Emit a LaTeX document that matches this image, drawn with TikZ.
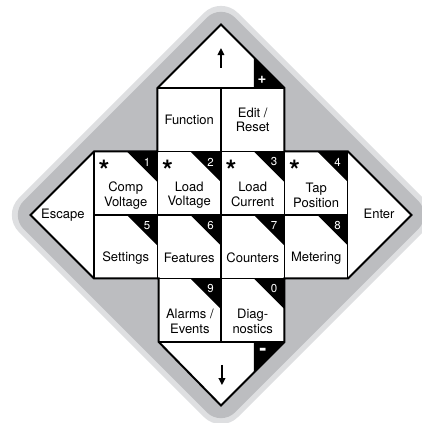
\documentclass[tikz,border=0pt]{standalone}
\usepackage{fontspec}
\setmainfont{TeX Gyre Heros}
\usetikzlibrary{arrows.meta}
\definecolor{PanelGray}{RGB}{188,189,192}
\definecolor{RimGray}{RGB}{222,223,225}
\tikzset{
  keylabel/.style={align=center, inner sep=0pt, font=\fontsize{13}{14.7}\selectfont},
  keynum/.style={white, inner sep=0pt, font=\fontsize{11.5}{12}\selectfont},
  keystar/.style={anchor=north, inner sep=0pt, font=\fontsize{28}{28}\bfseries\selectfont},
  gridline/.style={line width=1.1pt},
}
\begin{document}
\begin{tikzpicture}[x=63.5pt, y=63.5pt]
        \useasboundingbox (-3.480,-3.276) rectangle (3.165,3.386);
        % grey panel
        \fill[RimGray, rounded corners=24pt] (0,3.45)--(3.45,0)--(0,-3.45)--(-3.45,0)--cycle;
        \fill[PanelGray, rounded corners=20pt] (0,3.33)--(3.33,0)--(0,-3.33)--(-3.33,0)--cycle;
        % key face
        \fill[white] (0,3)--(1,2)--(1,1)--(2,1)--(3,0)--(2,-1)--(1,-1)--(1,-2)--(0,-3)--(-0.98,-2)--(-0.98,-1)--(-2,-1)--(-3,0)--(-2,1)--(-1,1)--(-1,2)--cycle;
        % black corners
        \fill (0.52,2)--(0.52,2.48)--(1,2)--cycle; \fill (0.52,-2)--(0.52,-2.48)--(1,-2)--cycle;
        \fill (-1.48,1)--(-1,1)--(-1,0.52)--cycle; \fill (-0.48,1)--(0,1)--(0,0.52)--cycle;
        \fill (0.52,1)--(1,1)--(1,0.52)--cycle; \fill (1.52,1)--(2,1)--(2,0.52)--cycle;
        \fill (-1.48,0)--(-1,0)--(-1,-0.48)--cycle; \fill (-0.48,0)--(0,0)--(0,-0.48)--cycle;
        \fill (0.52,0)--(1,0)--(1,-0.48)--cycle; \fill (1.52,0)--(2,0)--(2,-0.48)--cycle;
        \fill (-0.48,-1)--(0,-1)--(0,-1.48)--cycle; \fill (0.52,-1)--(1,-1)--(1,-1.48)--cycle;
        % key borders
        \draw[gridline] (-1,2)--(1,2) (-2,1)--(2,1) (-2,0)--(2,0) (-2,-1)--(2,-1) (-0.98,-2)--(1,-2);
        \draw[gridline] (0,2)--(0,-2) (-1,1)--(-1,-1) (1,1)--(1,-1) (-2,1)--(-2,-1) (2,1)--(2,-1);
        \draw[line width=2pt, line join=miter] (0,3)--(1,2)--(1,1)--(2,1)--(3,0)--(2,-1)--(1,-1)--(1,-2)--(0,-3)--(-0.98,-2)--(-0.98,-1)--(-2,-1)--(-3,0)--(-2,1)--(-1,1)--(-1,2)--cycle;
        % up / down
        \draw[-{Triangle[length=7pt, width=6.5pt]}, line width=2.4pt] (0,2.32)--(0,2.63);
        \draw[-{Triangle[length=7pt, width=6.5pt]}, line width=2.4pt] (0.016,-2.36)--(0.016,-2.68);
        \node[white, inner sep=0pt, font=\fontsize{15}{15}\bfseries\selectfont] (plus) at (0.646,2.13) {+};
        \node[white, inner sep=0pt, font=\fontsize{21}{21}\bfseries\selectfont] (minus) at (0.66,-2.15) {-};
        % labels
        \node[keylabel] (esc) at (-2.49,0) {Escape};
        \node[keylabel] (enter) at (2.49,0.02) {Enter};
        \node[keylabel] (func) at (-0.5,1.5) {Function};
        \node[keylabel] (edit) at (0.5,1.5) {Edit /\\Reset};
        \node[keylabel] (compv) at (-1.5,0.31) {Comp\\Voltage};
        \node[keylabel] (loadv) at (-0.5,0.31) {Load\\Voltage};
        \node[keylabel] (loadc) at (0.5,0.33) {Load\\Current};
        \node[keylabel] (tap) at (1.5,0.31) {Tap\\Position};
        \node[keylabel] (sett) at (-1.5,-0.68) {Settings};
        \node[keylabel] (feat) at (-0.5,-0.68) {Features};
        \node[keylabel] (count) at (0.5,-0.68) {Counters};
        \node[keylabel] (meter) at (1.5,-0.68) {Metering};
        \node[keylabel] (alarm) at (-0.49,-1.68) {Alarms /\\Events};
        \node[keylabel] (diag) at (0.5,-1.68) {Diag-\\nostics};
        % numbers
        \node[keynum] (n1) at (-1.165,0.835) {1}; \node[keynum] (n2) at (-0.165,0.835) {2};
        \node[keynum] (n3) at (0.835,0.835) {3}; \node[keynum] (n4) at (1.835,0.835) {4};
        \node[keynum] (n5) at (-1.165,-0.165) {5}; \node[keynum] (n6) at (-0.165,-0.165) {6};
        \node[keynum] (n7) at (0.835,-0.165) {7}; \node[keynum] (n8) at (1.835,-0.165) {8};
        \node[keynum] (n9) at (-0.165,-1.165) {9}; \node[keynum] (n0) at (0.835,-1.165) {0};
        % shortcut marks
        \node[keystar] (s1) at (-1.84,0.875) {*}; \node[keystar] (s2) at (-0.84,0.875) {*};
        \node[keystar] (s3) at (0.16,0.875) {*}; \node[keystar] (s4) at (1.16,0.875) {*};
      \end{tikzpicture}
\end{document}
